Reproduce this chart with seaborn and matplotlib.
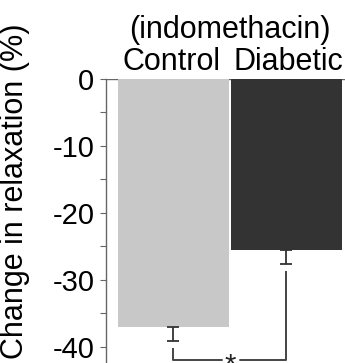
import matplotlib
matplotlib.use("Agg")
import matplotlib.pyplot as plt
import matplotlib.transforms as mtransforms
from matplotlib.ticker import FixedLocator
import seaborn as sns
import pandas as pd

# ---- data ----
categories = ["Control", "Diabetic"]
values = [-37.0, -25.6]
errors = [2.1, 2.0]
bar_colors = ["#c8c8c8", "#333333"]
header = "(indomethacin)"
ylabel = "Change in relaxation (%)"
yticks = [0, -10, -20, -30, -40]
yticklabels = ["0", "-10", "-20", "-30", "-40"]
sig_label = "*"

sns.set_style("ticks")
plt.rcParams["font.family"] = ["Liberation Sans", "DejaVu Sans"]
plt.rcParams["axes.unicode_minus"] = False

df = pd.DataFrame({"group": categories, "value": values})

fig = plt.figure(figsize=(3.45, 3.63), dpi=100)
ax = fig.add_axes([106 / 345, 0.0, 1 - 106 / 345, (363 - 79) / 363])

sns.barplot(data=df, x="group", y="value", hue="group", palette=bar_colors,
            order=categories, hue_order=categories, width=0.99, saturation=1,
            errorbar=None, legend=False, linewidth=0, ax=ax)

# one-sided (downward) error bars
for i, (v, e) in enumerate(zip(values, errors)):
    ax.errorbar(i, v, yerr=[[e], [0]], fmt="none", ecolor="#333333",
                elinewidth=1.3, capsize=4, capthick=1.3, zorder=3, clip_on=False)

ax.set_xlim(-0.597, 1.518)
ax.set_ylim(-42.4, 0)

# zero line from spine to bars
ax.axhline(0, color="#666666", lw=1.0, zorder=0.5)

# significance bracket
ybr = -41.9
gap = 1.1
ends = [v - e - gap for v, e in zip(values, errors)]
lc = "#444444"
lw = 1.4
ax.plot([0, 0], [ends[0], ybr], color=lc, lw=lw, clip_on=False, solid_capstyle="butt")
ax.plot([1, 1], [ends[1], ybr], color=lc, lw=lw, clip_on=False, solid_capstyle="butt")
ax.plot([0, 0.43], [ybr, ybr], color=lc, lw=lw, clip_on=False)
ax.plot([0.59, 1], [ybr, ybr], color=lc, lw=lw, clip_on=False)
ax.text(0.5, ybr - 0.9, sig_label, ha="center", va="center", fontsize=21,
        color="#222222", clip_on=False)

# axes styling
for s in ["top", "right", "bottom"]:
    ax.spines[s].set_visible(False)
ax.spines["left"].set_color("#666666")
ax.spines["left"].set_linewidth(1.0)
ax.set_xticks([])
ax.set_xlabel("")
ax.set_ylabel("")
ax.yaxis.set_major_locator(FixedLocator(yticks))
ax.set_yticklabels(yticklabels)
ax.yaxis.set_minor_locator(FixedLocator([-5, -15, -25, -35]))
ax.tick_params(axis="y", which="both", direction="out", length=4.3, width=0.8,
               color="#666666", labelsize=21, pad=4, labelcolor="black")

# header texts
tr = mtransforms.blended_transform_factory(ax.transData, fig.transFigure)
label_shift = [-0.02, 0.015]
for i, c in enumerate(categories):
    ax.text(i + label_shift[i], (363 - 70) / 363, c, transform=tr, ha="center",
            va="baseline", fontsize=22, color="black", clip_on=False)
ax.text(0.5, (363 - 38) / 363, header, transform=tr, ha="center", va="baseline",
        fontsize=22, color="black", clip_on=False)

fig.text(15 / 345, (363 - 191.5) / 363, ylabel, rotation=90, ha="center",
         va="center", fontsize=22, color="black")

fig.savefig("out.png", dpi=100)
